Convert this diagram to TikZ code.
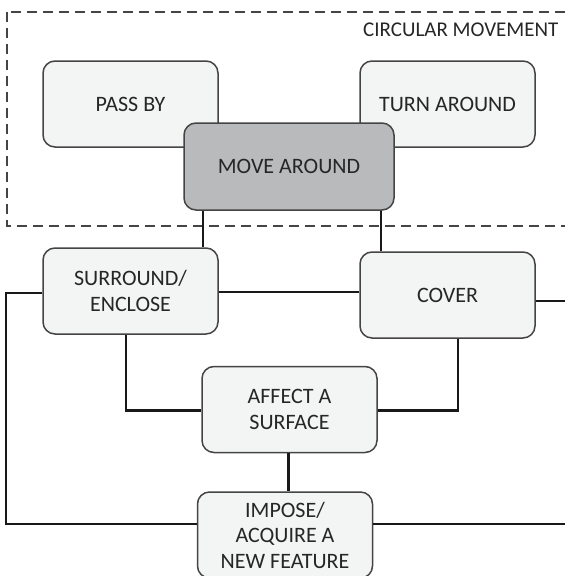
\documentclass[tikz,border=0pt]{standalone}
\usepackage{fontspec}
\setmainfont{Carlito}
\usepackage{tikz}
\definecolor{boxfill}{HTML}{F3F4F4}
\definecolor{mainfill}{HTML}{B9BABC}
\definecolor{boxline}{HTML}{444444}
\definecolor{txt}{HTML}{262626}
\begin{document}
\begin{tikzpicture}[x=1pt,y=-1pt]
	\tikzstyle{box}=[rectangle,rounded corners=12pt,draw=boxline,line width=1.5pt,fill=boxfill,text=txt,minimum width=175pt,minimum height=86pt,inner sep=2pt,align=center,font=\fontsize{22}{25.5}\selectfont]
	\tikzstyle{mainbox}=[box,fill=mainfill,minimum width=210pt,minimum height=87pt]
	\tikzstyle{link}=[line width=2.4pt,black!90]
	\useasboundingbox (0,0) rectangle (565,576);
	\draw[line width=2pt,dash pattern=on 10pt off 6pt,boxline] (7,12) rectangle (600,226);
	\node[text=txt,anchor=east,font=\fontsize{21}{25}\selectfont] (0) at (562,30) {CIRCULAR MOVEMENT};
	\coordinate (r) at (600,0);
	\node[box] (1) at (130.5,104) {PASS BY};
	\node[box] (2) at (447.5,104) {TURN AROUND};
	\node[mainbox] (3) at (289,166.5) {MOVE AROUND};
	\node[box] (4) at (130.5,291) {SURROUND/\\ENCLOSE};
	\node[box] (5) at (447.5,295) {COVER};
	\node[box] (6) at (289.5,409.5) {AFFECT A\\SURFACE};
	\node[box] (7) at (285,535) {IMPOSE/\\ACQUIRE A\\NEW FEATURE};
	\draw[link] ([xshift=20pt]3.south west) -- ([xshift=20pt]3.south west |- 4.north);
	\draw[link] ([xshift=-14pt]3.south east) -- ([xshift=-14pt]3.south east |- 5.north);
	\draw[link] ([yshift=-1pt]4.east) -- ([yshift=-1pt]4.east -| 5.west);
	\draw[link] ([yshift=-2pt]4.west) -- ++(-36,0) |- ([yshift=11pt]7.west);
	\draw[link] ([yshift=-6pt]5.east) -- ([yshift=-6pt]5.east -| r);
	\draw[link] ([yshift=11pt]7.east) -- ([yshift=11pt]7.east -| r);
	\draw[link] ([xshift=-4.5pt]4.south) |- ([yshift=-1pt]6.west);
	\draw[link] ([xshift=10.5pt]5.south) |- ([yshift=-1pt]6.east);
	\draw[link] ([xshift=-1pt]6.south) -- ([xshift=-1pt]6.south |- 7.north);
\end{tikzpicture}
\end{document}
